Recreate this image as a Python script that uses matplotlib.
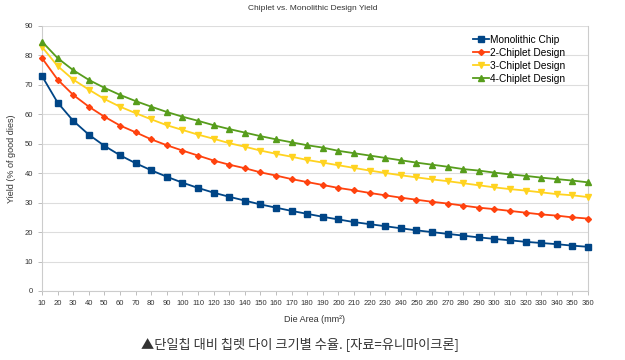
import numpy as np
import matplotlib.pyplot as plt

# Die area (mm^2)
area = list(range(10, 361, 10))

# Yield (% of good dies)
monolithic = [73.0, 64.0, 57.8, 53.1, 49.3, 46.1, 43.4, 41.0, 38.8, 36.8,
              35.0, 33.4, 32.0, 30.7, 29.4, 28.3, 27.2, 26.2, 25.2, 24.3,
              23.4, 22.7, 22.0, 21.3, 20.6, 20.0, 19.4, 18.8, 18.2, 17.7,
              17.2, 16.7, 16.3, 15.9, 15.4, 15.0]
chiplet2 = [79.1, 71.8, 66.6, 62.6, 59.2, 56.2, 53.9, 51.5, 49.5, 47.7,
            46.0, 44.3, 42.9, 41.7, 40.3, 39.2, 38.0, 37.0, 36.0, 35.0,
            34.2, 33.3, 32.5, 31.7, 31.0, 30.3, 29.7, 29.0, 28.3, 27.8,
            27.2, 26.6, 26.0, 25.6, 25.0, 24.6]
chiplet3 = [82.9, 76.4, 71.8, 68.4, 65.2, 62.6, 60.4, 58.3, 56.3, 54.7,
            53.1, 51.7, 50.2, 49.0, 47.7, 46.6, 45.6, 44.5, 43.6, 42.7,
            41.8, 40.9, 40.1, 39.3, 38.6, 37.9, 37.3, 36.6, 35.9, 35.2,
            34.6, 34.1, 33.5, 32.9, 32.5, 31.9]
chiplet4 = [84.7, 79.1, 75.0, 71.7, 69.0, 66.6, 64.5, 62.6, 60.8, 59.2,
            57.8, 56.3, 55.0, 53.8, 52.6, 51.5, 50.5, 49.5, 48.7, 47.6,
            46.8, 46.0, 45.2, 44.4, 43.6, 42.9, 42.2, 41.4, 40.9, 40.2,
            39.6, 39.1, 38.5, 38.0, 37.5, 36.9]

names = ["Monolithic Chip", "2-Chiplet Design", "3-Chiplet Design", "4-Chiplet Design"]
colors = ["#004586", "#ff420e", "#ffd320", "#579d1c"]
markers = ["s", "D", "v", "^"]
sizes = [4.2, 3.0, 4.2, 4.2]

plt.rcParams['font.family'] = ['Liberation Sans', 'DejaVu Sans']

fig = plt.figure(figsize=(6.25, 3.6), dpi=100)
ax = fig.add_axes([0.0672, 0.1917, 0.8736, 0.7361])

for ys, name, c, m, s in zip([monolithic, chiplet2, chiplet3, chiplet4], names, colors, markers, sizes):
    ax.plot(area, ys, color=c, marker=m, markersize=s, linewidth=1.3, label=name,
            clip_on=False, zorder=3)

ax.set_xlim(10, 360)
ax.set_ylim(0, 90)
ax.set_xticks(area)
ax.set_yticks(range(0, 91, 10))
ax.tick_params(labelsize=5.5, colors="#b3b3b3", labelcolor="#333333", length=3, width=0.6)
ax.grid(axis="y", color="#dddddd", linewidth=0.8)
ax.set_axisbelow(True)
for side in ["left", "bottom", "right"]:
    ax.spines[side].set_color("#cccccc")
    ax.spines[side].set_linewidth(0.8)
ax.spines["top"].set_visible(False)

ax.set_xlabel("Die Area (mm²)", fontsize=6.5, color="#333333", labelpad=6)
ax.set_ylabel("Yield (% of good dies)", fontsize=6.5, color="#333333", labelpad=6)
fig.text(0.5, 0.975, "Chiplet vs. Monolithic Design Yield", ha="center", va="center",
         fontsize=6, color="#333333")

ax.legend(loc="upper right", bbox_to_anchor=(0.97, 0.99), frameon=False, fontsize=7.3,
          handlelength=1.6, labelspacing=0.3, handletextpad=0.15, borderaxespad=0.2)

fig.text(0.48, 0.042, "▲단일칩 대비 칩렛 다이 크기별 수율. [자료=유니마이크론]",
         ha="center", va="center", fontsize=9.5, color="#333333",
         family=['Noto Sans CJK KR', 'DejaVu Sans'])

fig.savefig("out.png", dpi=100)
